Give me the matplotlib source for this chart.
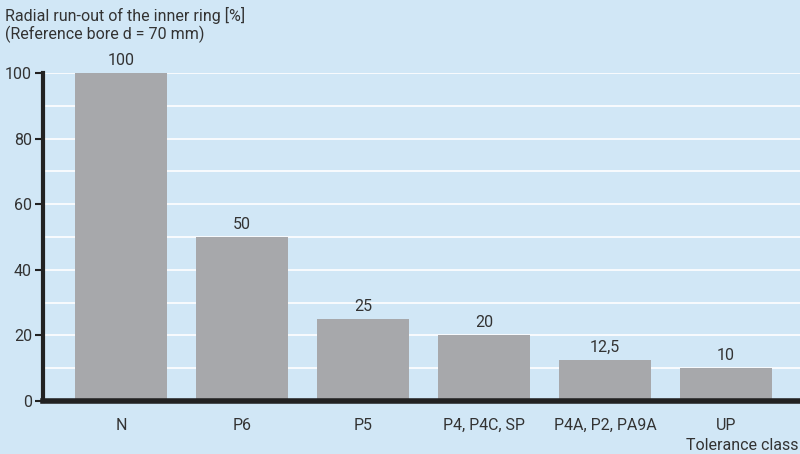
import matplotlib
matplotlib.use("Agg")
import matplotlib.pyplot as plt

# ── Data ────────────────────────────────────────────────────────────
CLASSES = ["N", "P6", "P5", "P4, P4C, SP", "P4A, P2, PA9A", "UP"]
RUNOUT = [100, 50, 25, 20, 12.5, 10]
VALUE_LABELS = ["100", "50", "25", "20", "12,5", "10"]

BG = "#D1E7F6"
BAR = "#A7A8AB"
TXT = "#333333"
FS = 11.5

plt.rcParams["font.family"] = ["Roboto", "DejaVu Sans"]

fig = plt.figure(figsize=(8, 4.54), dpi=100)
fig.patch.set_facecolor(BG)
ax = fig.add_axes([43 / 800, 53 / 454, 1 - 43 / 800, 328 / 454])
ax.set_facecolor(BG)

x = range(len(CLASSES))
ax.bar(x, RUNOUT, width=0.76, color=BAR, zorder=3)
for xi, v, lbl in zip(x, RUNOUT, VALUE_LABELS):
    ax.text(xi, v + 1.5, lbl, ha="center", va="bottom", fontsize=FS,
            color=TXT, clip_on=False)

# white grid every 10
for g in range(10, 101, 10):
    ax.axhline(g, color="white", linewidth=1.2, zorder=1)

ax.set_xlim(-0.645, 5.61)
ax.set_ylim(0, 100)
ax.set_xticks(list(x))
ax.set_xticklabels(CLASSES, fontsize=FS, color=TXT)
ax.tick_params(axis="x", length=0, pad=12)
ax.set_yticks(range(0, 101, 20))
ax.tick_params(axis="y", length=6, width=1.5, color="#222222",
               labelsize=FS, labelcolor=TXT, pad=2)

for s in ["top", "right"]:
    ax.spines[s].set_visible(False)
ax.spines["left"].set_linewidth(3)
ax.spines["bottom"].set_linewidth(4)
ax.spines["left"].set_color("#222222")
ax.spines["bottom"].set_color("#222222")
ax.spines["left"].set_zorder(5)
ax.spines["bottom"].set_zorder(5)

fig.text(5 / 800, 1 - 25 / 454, "Radial run-out of the inner ring [%]\n(Reference bore d = 70 mm)",
         ha="left", va="center", fontsize=FS, color=TXT, linespacing=1.2)
fig.text(799 / 800, 1 - 446 / 454, "Tolerance class", ha="right", va="center",
         fontsize=FS, color=TXT)

fig.savefig("out.png", dpi=100, facecolor=BG)
